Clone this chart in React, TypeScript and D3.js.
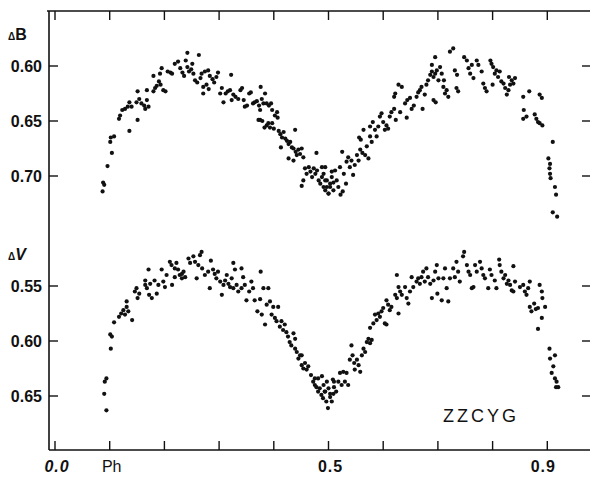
import React from 'react';
import * as d3 from 'd3';

// phase / ΔB readings, upper curve
const bPoints: [number, number][] = [
  [0.087,0.714],[0.088,0.706],[0.090,0.708],[0.096,0.691],[0.104,0.679],[0.101,0.669],[0.102,0.665],[0.108,0.664],
  [0.117,0.648],[0.119,0.645],[0.123,0.640],[0.128,0.639],[0.133,0.637],[0.136,0.633],[0.140,0.637],[0.136,0.659],
  [0.151,0.649],[0.149,0.633],[0.154,0.630],[0.158,0.634],[0.163,0.636],[0.168,0.631],[0.171,0.637],[0.165,0.639],
  [0.151,0.623],[0.168,0.622],[0.180,0.623],[0.183,0.620],[0.186,0.618],[0.190,0.614],[0.193,0.617],[0.198,0.622],
  [0.202,0.623],[0.180,0.609],[0.192,0.607],[0.195,0.602],[0.206,0.605],[0.211,0.606],[0.214,0.607],[0.219,0.598],
  [0.225,0.596],[0.229,0.602],[0.233,0.606],[0.236,0.609],[0.239,0.595],[0.242,0.601],[0.245,0.605],[0.249,0.603],
  [0.251,0.598],[0.253,0.607],[0.242,0.588],[0.263,0.590],[0.256,0.613],[0.260,0.615],[0.266,0.611],[0.268,0.607],
  [0.274,0.605],[0.280,0.604],[0.283,0.609],[0.288,0.612],[0.291,0.615],[0.295,0.610],[0.298,0.606],[0.271,0.619],
  [0.277,0.617],[0.281,0.621],[0.271,0.625],[0.302,0.625],[0.305,0.620],[0.308,0.633],[0.312,0.625],[0.316,0.623],
  [0.320,0.622],[0.323,0.631],[0.326,0.626],[0.330,0.628],[0.322,0.608],[0.335,0.630],[0.339,0.622],[0.342,0.620],
  [0.345,0.631],[0.347,0.637],[0.351,0.636],[0.355,0.625],[0.358,0.624],[0.362,0.634],[0.365,0.633],[0.369,0.632],
  [0.373,0.636],[0.375,0.640],[0.378,0.630],[0.381,0.634],[0.384,0.625],[0.387,0.634],[0.391,0.636],[0.395,0.634],
  [0.397,0.640],[0.376,0.619],[0.372,0.649],[0.375,0.649],[0.379,0.650],[0.383,0.656],[0.387,0.654],[0.390,0.652],
  [0.393,0.656],[0.397,0.652],[0.400,0.657],[0.402,0.645],[0.406,0.642],[0.407,0.647],[0.409,0.659],[0.412,0.662],
  [0.415,0.665],[0.418,0.660],[0.421,0.666],[0.424,0.668],[0.427,0.671],[0.430,0.669],[0.433,0.674],[0.436,0.675],
  [0.439,0.658],[0.440,0.678],[0.442,0.681],[0.445,0.676],[0.448,0.680],[0.451,0.675],[0.454,0.683],[0.413,0.674],
  [0.427,0.684],[0.436,0.686],[0.457,0.693],[0.460,0.698],[0.464,0.692],[0.467,0.696],[0.470,0.701],[0.473,0.693],
  [0.476,0.698],[0.479,0.695],[0.478,0.679],[0.482,0.704],[0.485,0.707],[0.488,0.701],[0.491,0.710],[0.494,0.713],
  [0.497,0.704],[0.500,0.716],[0.503,0.710],[0.506,0.696],[0.509,0.706],[0.494,0.692],[0.454,0.704],[0.451,0.709],
  [0.488,0.692],[0.491,0.698],[0.494,0.704],[0.497,0.710],[0.500,0.716],[0.503,0.707],[0.506,0.701],[0.509,0.713],
  [0.512,0.695],[0.515,0.704],[0.518,0.710],[0.522,0.717],[0.526,0.714],[0.521,0.692],[0.525,0.678],[0.528,0.698],
  [0.532,0.707],[0.533,0.687],[0.536,0.683],[0.539,0.692],[0.542,0.686],[0.545,0.699],[0.548,0.690],[0.552,0.681],
  [0.555,0.686],[0.558,0.676],[0.559,0.667],[0.562,0.679],[0.567,0.681],[0.570,0.673],[0.573,0.684],[0.556,0.665],
  [0.564,0.658],[0.576,0.664],[0.579,0.669],[0.576,0.655],[0.581,0.651],[0.585,0.658],[0.588,0.664],[0.591,0.655],
  [0.594,0.646],[0.597,0.643],[0.600,0.651],[0.603,0.658],[0.606,0.654],[0.609,0.657],[0.612,0.646],[0.615,0.642],
  [0.620,0.639],[0.623,0.649],[0.620,0.628],[0.622,0.625],[0.628,0.617],[0.634,0.619],[0.631,0.642],[0.640,0.634],
  [0.644,0.631],[0.649,0.629],[0.643,0.647],[0.652,0.639],[0.656,0.636],[0.661,0.628],[0.664,0.624],[0.667,0.622],
  [0.670,0.619],[0.672,0.639],[0.676,0.626],[0.679,0.617],[0.682,0.613],[0.686,0.608],[0.689,0.605],[0.692,0.610],
  [0.695,0.607],[0.698,0.604],[0.701,0.613],[0.692,0.631],[0.696,0.633],[0.695,0.592],[0.689,0.599],[0.704,0.601],
  [0.707,0.607],[0.710,0.619],[0.713,0.625],[0.716,0.622],[0.719,0.628],[0.711,0.613],[0.722,0.587],[0.728,0.584],
  [0.731,0.604],[0.735,0.608],[0.734,0.620],[0.737,0.623],[0.748,0.592],[0.753,0.595],[0.756,0.602],[0.759,0.607],
  [0.762,0.599],[0.765,0.611],[0.771,0.595],[0.774,0.599],[0.780,0.605],[0.783,0.616],[0.786,0.620],[0.789,0.623],
  [0.796,0.595],[0.798,0.598],[0.800,0.617],[0.804,0.607],[0.807,0.604],[0.810,0.610],[0.813,0.605],[0.816,0.614],
  [0.820,0.616],[0.823,0.620],[0.826,0.626],[0.829,0.622],[0.832,0.617],[0.835,0.613],[0.838,0.616],[0.841,0.611],
  [0.830,0.610],[0.801,0.601],[0.856,0.628],[0.867,0.623],[0.886,0.626],[0.890,0.629],[0.857,0.640],[0.856,0.648],
  [0.862,0.646],[0.877,0.644],[0.880,0.648],[0.883,0.651],[0.886,0.652],[0.891,0.654],[0.910,0.669],[0.902,0.684],
  [0.905,0.689],[0.904,0.693],[0.905,0.698],[0.906,0.702],[0.914,0.710],[0.916,0.717],[0.910,0.733],[0.918,0.737],
];

// phase / ΔV readings, lower curve
const vPoints: [number, number][] = [
  [0.094,0.663],[0.090,0.648],[0.091,0.637],[0.094,0.634],[0.102,0.607],[0.101,0.594],[0.104,0.596],[0.108,0.583],
  [0.117,0.578],[0.121,0.575],[0.125,0.572],[0.128,0.576],[0.131,0.569],[0.134,0.573],[0.131,0.564],[0.141,0.581],
  [0.146,0.555],[0.149,0.552],[0.151,0.561],[0.154,0.557],[0.165,0.545],[0.168,0.552],[0.171,0.535],[0.174,0.548],
  [0.172,0.558],[0.177,0.561],[0.182,0.545],[0.186,0.557],[0.189,0.549],[0.195,0.535],[0.198,0.546],[0.201,0.551],
  [0.204,0.540],[0.210,0.528],[0.213,0.531],[0.214,0.549],[0.219,0.534],[0.222,0.529],[0.225,0.535],[0.228,0.540],
  [0.232,0.543],[0.235,0.537],[0.238,0.542],[0.244,0.525],[0.247,0.529],[0.253,0.523],[0.256,0.528],[0.259,0.543],
  [0.262,0.531],[0.265,0.522],[0.268,0.519],[0.269,0.534],[0.274,0.540],[0.280,0.537],[0.283,0.552],[0.285,0.527],
  [0.289,0.535],[0.292,0.539],[0.295,0.543],[0.298,0.537],[0.302,0.546],[0.305,0.558],[0.308,0.549],[0.311,0.545],
  [0.314,0.540],[0.317,0.548],[0.320,0.551],[0.323,0.543],[0.326,0.529],[0.326,0.552],[0.329,0.535],[0.332,0.549],
  [0.335,0.555],[0.341,0.534],[0.341,0.552],[0.344,0.542],[0.347,0.549],[0.350,0.563],[0.355,0.555],[0.359,0.546],
  [0.362,0.552],[0.365,0.563],[0.370,0.573],[0.375,0.562],[0.376,0.537],[0.378,0.576],[0.381,0.552],[0.384,0.585],
  [0.387,0.567],[0.390,0.552],[0.393,0.564],[0.396,0.576],[0.399,0.569],[0.402,0.579],[0.405,0.582],[0.408,0.569],
  [0.411,0.587],[0.414,0.582],[0.417,0.590],[0.420,0.585],[0.423,0.592],[0.426,0.596],[0.429,0.601],[0.432,0.604],
  [0.436,0.593],[0.439,0.607],[0.442,0.610],[0.445,0.616],[0.448,0.613],[0.451,0.622],[0.454,0.625],[0.457,0.620],
  [0.460,0.626],[0.463,0.623],[0.468,0.631],[0.472,0.637],[0.475,0.634],[0.478,0.642],[0.481,0.646],[0.484,0.643],
  [0.487,0.649],[0.490,0.652],[0.493,0.646],[0.496,0.655],[0.499,0.661],[0.503,0.651],[0.506,0.655],[0.509,0.648],
  [0.510,0.637],[0.481,0.634],[0.475,0.640],[0.451,0.613],[0.439,0.598],[0.165,0.549],[0.219,0.542],[0.232,0.539],
  [0.488,0.632],[0.491,0.640],[0.494,0.646],[0.497,0.637],[0.500,0.643],[0.503,0.648],[0.508,0.635],[0.510,0.642],
  [0.514,0.646],[0.518,0.637],[0.521,0.629],[0.524,0.640],[0.527,0.628],[0.530,0.637],[0.533,0.629],[0.536,0.640],
  [0.539,0.617],[0.542,0.604],[0.544,0.613],[0.547,0.620],[0.548,0.626],[0.552,0.617],[0.555,0.622],[0.558,0.628],
  [0.561,0.613],[0.564,0.607],[0.567,0.610],[0.570,0.601],[0.573,0.598],[0.576,0.602],[0.579,0.599],[0.576,0.588],
  [0.582,0.584],[0.585,0.576],[0.588,0.581],[0.591,0.575],[0.594,0.578],[0.597,0.573],[0.600,0.570],[0.603,0.584],
  [0.606,0.585],[0.609,0.567],[0.612,0.572],[0.606,0.563],[0.615,0.569],[0.622,0.558],[0.625,0.561],[0.628,0.575],
  [0.625,0.540],[0.628,0.551],[0.631,0.555],[0.634,0.558],[0.640,0.551],[0.643,0.561],[0.646,0.566],[0.649,0.555],
  [0.652,0.542],[0.655,0.551],[0.661,0.546],[0.664,0.543],[0.667,0.548],[0.670,0.542],[0.673,0.537],[0.676,0.546],
  [0.679,0.534],[0.682,0.542],[0.686,0.548],[0.689,0.561],[0.692,0.545],[0.695,0.537],[0.698,0.531],[0.699,0.557],
  [0.701,0.543],[0.707,0.563],[0.710,0.543],[0.713,0.534],[0.716,0.552],[0.719,0.564],[0.722,0.543],[0.728,0.534],
  [0.731,0.542],[0.734,0.528],[0.737,0.537],[0.740,0.546],[0.746,0.523],[0.748,0.519],[0.753,0.531],[0.756,0.537],
  [0.759,0.540],[0.762,0.552],[0.765,0.551],[0.768,0.531],[0.771,0.537],[0.777,0.528],[0.780,0.534],[0.783,0.540],
  [0.786,0.543],[0.792,0.552],[0.795,0.535],[0.798,0.540],[0.804,0.545],[0.807,0.552],[0.812,0.526],[0.813,0.531],
  [0.816,0.537],[0.820,0.543],[0.823,0.540],[0.826,0.548],[0.829,0.545],[0.832,0.549],[0.835,0.554],[0.838,0.532],
  [0.838,0.555],[0.841,0.546],[0.850,0.551],[0.856,0.549],[0.859,0.555],[0.862,0.558],[0.865,0.552],[0.868,0.546],
  [0.868,0.569],[0.871,0.573],[0.883,0.570],[0.886,0.549],[0.890,0.555],[0.891,0.561],[0.896,0.569],[0.890,0.579],
  [0.883,0.589],[0.904,0.607],[0.914,0.613],[0.905,0.616],[0.911,0.623],[0.908,0.629],[0.914,0.634],[0.917,0.637],
  [0.916,0.642],[0.920,0.642],[0.876,0.566],[0.879,0.571],
];

const xTicks = [0, 0.1, 0.2, 0.3, 0.4, 0.5, 0.6, 0.7, 0.8, 0.9];
const xLabels: [number, string][] = [[0, '0.0'], [0.1, 'Ph'], [0.5, '0.5'], [0.9, '0.9']];
const bTicks = [0.60, 0.65, 0.70];
const vTicks = [0.55, 0.60, 0.65];

const W = 590;
const H = 477;
const left = 49, right = 594, top = 11, bottom = 450;

export default function App() {
  const x = d3.scaleLinear().domain([0, 1]).range([55, 602]);
  const yB = d3.scaleLinear().domain([0.60, 0.70]).range([66, 176]);
  const yV = d3.scaleLinear().domain([0.55, 0.65]).range([286, 396]);

  const font = "'Liberation Sans', Arial, sans-serif";
  const tickLen = 9;

  return (
    <svg width={W} height={H} style={{ position: 'absolute', left: 0, top: 0, background: '#fff' }}>
      <rect width={W} height={H} fill="#fff" />
      {/* frame (right edge falls just outside the picture) */}
      <g stroke="#111" strokeWidth={1.6} fill="none">
        <line x1={left} y1={top} x2={left} y2={bottom} />
        <line x1={left} y1={bottom} x2={right} y2={bottom} />
        <line x1={left - 2} y1={top} x2={right} y2={top} />
        <line x1={right} y1={top} x2={right} y2={bottom} />
      </g>
      <g stroke="#111" strokeWidth={1.4}>
        {xTicks.map(t => (
          <g key={t}>
            <line x1={x(t)} x2={x(t)} y1={bottom} y2={bottom - tickLen} />
            <line x1={x(t)} x2={x(t)} y1={top} y2={top + tickLen} />
          </g>
        ))}
      </g>
      <g stroke="#111" strokeWidth={1.4}>
        {bTicks.map(t => (
          <g key={'b' + t}>
            <line x1={left} x2={left + tickLen} y1={yB(t)} y2={yB(t)} />
            <line x1={right} x2={right - 12} y1={yB(t)} y2={yB(t)} />
          </g>
        ))}
        {vTicks.map(t => (
          <g key={'v' + t}>
            <line x1={left} x2={left + tickLen} y1={yV(t)} y2={yV(t)} />
            <line x1={right} x2={right - 12} y1={yV(t)} y2={yV(t)} />
          </g>
        ))}
      </g>
      <g fontFamily={font} fontWeight="bold" fontSize={16} fill="#111" textAnchor="end">
        {bTicks.map(t => (
          <text key={'bl' + t} x={42} y={yB(t) + 6}>{d3.format('.2f')(t)}</text>
        ))}
        {vTicks.map(t => (
          <text key={'vl' + t} x={42} y={yV(t) + 6}>{d3.format('.2f')(t)}</text>
        ))}
      </g>
      <text x={8} y={40} fontFamily={font} fontWeight="bold" fill="#111">
        <tspan fontSize={10}>Δ</tspan><tspan fontSize={16}>B</tspan>
      </text>
      <text x={8} y={260} fontFamily={font} fontWeight="bold" fill="#111">
        <tspan fontSize={10}>Δ</tspan><tspan fontSize={16} fontStyle="italic">V</tspan>
      </text>
      <g fontFamily={font} fontSize={16} fill="#111" textAnchor="middle">
        {xLabels.map(([t, s]) => (
          <text key={s} x={x(t) + (t === 0.9 ? -4 : 2)} y={472} fontWeight={s === 'Ph' ? 'normal' : 'bold'}
            fontStyle={s === '0.0' ? 'italic' : 'normal'} letterSpacing={s === 'Ph' ? 0 : 1}>{s}</text>
        ))}
      </g>
      <text x={443} y={422} fontFamily={font} fontSize={18} letterSpacing={3} fill="#111">ZZCYG</text>
      <g fill="#111">
        {bPoints.map(([p, m], i) => (
          <circle key={'bp' + i} cx={x(p)} cy={yB(m)} r={2.1} />
        ))}
        {vPoints.map(([p, m], i) => (
          <circle key={'vp' + i} cx={x(p)} cy={yV(m)} r={2.1} />
        ))}
      </g>
    </svg>
  );
}
